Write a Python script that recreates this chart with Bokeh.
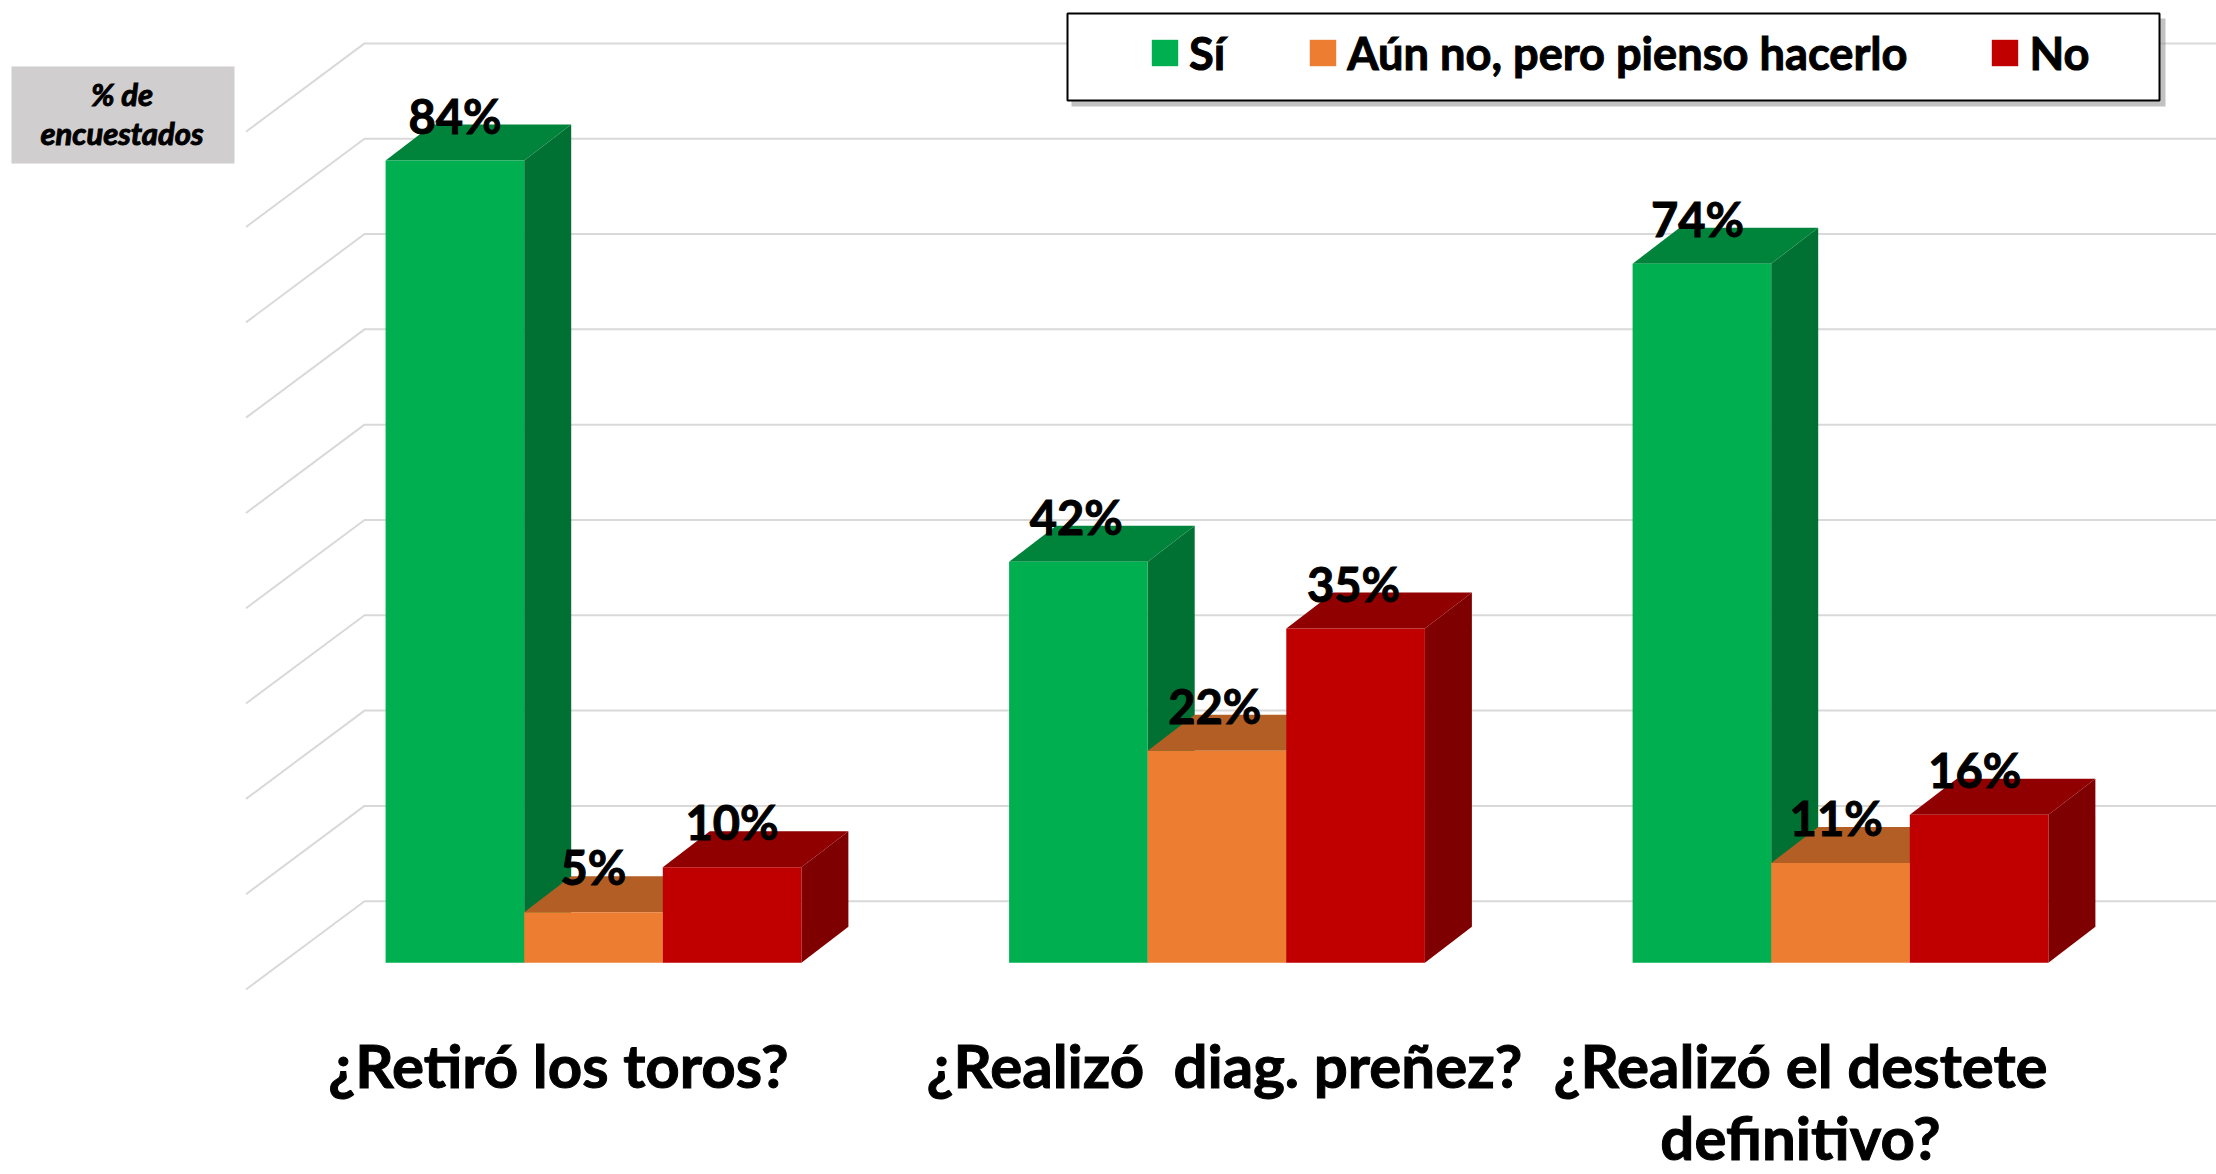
from bokeh.plotting import figure
from bokeh.models import Range1d, Legend, LegendItem
from bokeh.core.properties import value
from bokeh.embed import file_html
from bokeh.resources import INLINE

categories = ["¿Retiró los toros?", "¿Realizó\u00a0 diag. preñez?", "¿Realizó el destete\ndefinitivo?"]
series_names = ["Sí", "Aún no, pero pienso hacerlo", "No"]
si = [84, 42, 73.2]
aun = [5.3, 22.2, 10.45]
no = [10, 35, 15.5]
label_si = ["84%", "42%", "74%"]
label_aun = ["5%", "22%", "11%"]
label_no = ["10%", "35%", "16%"]
grid_values = [0, 10, 20, 30, 40, 50, 60, 70, 80, 90]
y_box_text = "% de\nencuestados"

W, H = 2216, 1174
PX_GROUP = 623.5
PX_VAL = 9.55
X0, Y0 = 593.0, 962.3
def X(px): return (px - X0) / PX_GROUP
def Y(px): return (Y0 - px) / PX_VAL

p = figure(width=W, height=H, output_backend="svg", toolbar_location=None, min_border=0,
           x_range=Range1d(X(0), X(W)), y_range=Range1d(Y(H), Y(0)),
           outline_line_color=None, background_fill_color="white", border_fill_color="white")
p.axis.visible = False
p.grid.visible = False

# floor + back wall gridlines
for g in grid_values:
    v = g * 0.998
    p.line([X(245.5), X(364), X(2216)], [Y(989) + v, Y(900.7) + v, Y(900.7) + v],
           line_color="#D9D9D9", line_width=2)

# grey box
p.quad(left=[X(11)], right=[X(234)], top=[Y(66)], bottom=[Y(163)], fill_color="#D0CECE", line_color=None)
p.text(x=[X(121.5)], y=[Y(113)], text=[y_box_text], text_font=value("Lato"), text_font_style="bold italic",
       text_font_size="31px", text_align="center", text_baseline="middle", text_color="black", text_line_height=1.02,
       text_outline_color="black")

BAR = 138.6 / PX_GROUP
DX = 47 / PX_GROUP
DY = 36 / PX_VAL
styles = [("#00B050", "#00843C", "#007033"),
          ("#ED7D31", "#B25E25", "#8E4B1D"),
          ("#C00000", "#900000", "#7F0000")]
rens = []
all_vals = [si, aun, no]
for s, (vals, st) in enumerate(zip(all_vals, styles)):
    rx0 = []; rx1 = []; rt = []; rb = []
    side_x = []; side_y = []; top_x = []; top_y = []
    for i, v in enumerate(vals):
        l = i + (s - 1.5) * BAR
        r = l + BAR
        rx0.append(l); rx1.append(r); rt.append(v); rb.append(0)
        side_x.append([r, r + DX, r + DX, r]); side_y.append([0, DY, v + DY, v])
        top_x.append([l, r, r + DX, l + DX]); top_y.append([v, v, v + DY, v + DY])
    p.patches(side_x, side_y, fill_color=st[2], line_color=None)
    p.patches(top_x, top_y, fill_color=st[1], line_color=None)
    rens.append(p.quad(left=rx0, right=rx1, top=rt, bottom=rb, fill_color=st[0], line_color=None))

# data labels
for s, (vals, labs) in enumerate(zip(all_vals, [label_si, label_aun, label_no])):
    xs = [i * 0.9965 + (s - 1) * BAR for i in range(len(vals))]
    p.text(x=xs, y=vals, text=labs, text_font=value("Lato"), text_font_style="bold", text_font_size="47px",
           text_align="center", text_baseline="alphabetic", y_offset=-45, text_color="black",
           text_outline_color="black")

# category labels
cx = [X(558), X(1224), X(1800)]
p.text(x=cx, y=[Y(1028)] * 3, text=categories, text_font=value("Lato"), text_font_style="bold",
       text_font_size="60px", text_align="center", text_baseline="top", text_color="black", text_line_height=1.0,
       text_outline_color="black")

# legend frame + shadow
p.quad(left=[X(1071)], right=[X(2165)], top=[Y(18)], bottom=[Y(106)], fill_color="#9A9A9A", fill_alpha=0.6, line_color=None)
p.quad(left=[X(1067)], right=[X(2159)], top=[Y(13)], bottom=[Y(100)], fill_color="white", line_color="black", line_width=2)

leg = Legend(items=[LegendItem(label=n, renderers=[r]) for n, r in zip(series_names, rens)],
             orientation="horizontal", location=(1148, H - 80), margin=0, padding=10, spacing=81,
             glyph_width=33, glyph_height=33, label_standoff=8,
             label_text_font="Lato", label_text_font_style="bold", label_text_font_size="45.2px", label_text_color="black",
             label_text_outline_color="black",
             border_line_color=None, background_fill_alpha=0)
p.add_layout(leg, "center")

open("out.html", "w").write(file_html(p, INLINE))
